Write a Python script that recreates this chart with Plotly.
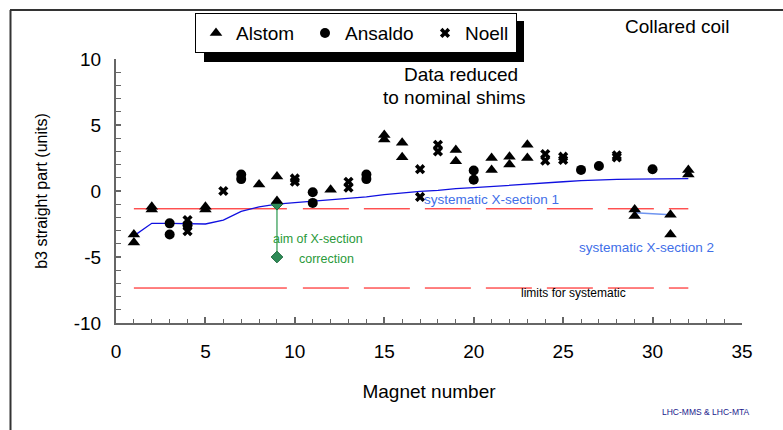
import plotly.graph_objects as go

# ---------------- data ----------------
alstom_x = [1, 1, 2, 2, 5, 5, 8, 9, 9, 12, 15, 15, 16, 16, 19, 19, 21, 21, 22, 22, 23, 23, 29, 29, 31, 31, 32, 32]
alstom_y = [-3.3, -3.9, -1.2, -1.4, -1.2, -1.4, 0.5, 1.1, -0.75, 0.1, 4.25, 3.9, 3.65, 2.55, 3.1, 2.25,
            2.5, 1.6, 2.6, 2.0, 3.5, 2.5, -1.4, -1.9, -1.8, -3.3, 1.6, 1.25]

ansaldo_x = [3, 3, 4, 7, 7, 11, 11, 14, 14, 20, 20, 26, 27, 30]
ansaldo_y = [-2.45, -3.3, -2.6, 1.25, 0.9, -0.1, -0.9, 1.25, 0.9, 1.55, 0.85, 1.6, 1.9, 1.65]

noell_x = [4, 4, 6, 10, 10, 13, 13, 17, 17, 18, 18, 24, 24, 25, 25, 28, 28]
noell_y = [-2.2, -3.05, 0.0, 0.95, 0.7, 0.7, 0.25, 1.65, -0.45, 3.5, 3.0, 2.8, 2.3, 2.6, 2.35, 2.7, 2.55]

magnets = list(range(1, 33))
syst1 = [-3.4, -2.45, -2.45, -2.5, -2.5, -2.2, -1.55, -1.2, -1.0, -0.88, -0.78, -0.68, -0.58, -0.45,
         -0.28, -0.15, -0.03, 0.05, 0.18, 0.25, 0.35, 0.42, 0.52, 0.62, 0.7, 0.78, 0.85, 0.88, 0.9,
         0.92, 0.93, 0.94]

syst2_x = [29, 30, 31]
syst2_y = [-1.65, -1.72, -1.8]

aim_x = [9, 9]
aim_y = [-1.0, -5.0]

limit_x = [1, 32]
limit_upper = -1.35
limit_lower = -7.35

x_ticks = [0, 5, 10, 15, 20, 25, 30, 35]
y_ticks = [-10, -5, 0, 5, 10]
y_ticktext = ["-10", "-5", "0", "5", "10"]

FONT = "Liberation Sans, Arial, sans-serif"
RED_DASH = "153px,16px" + ",46px,15px" * 10

fig = go.Figure()

for yv in (limit_upper, limit_lower):
    fig.add_trace(go.Scatter(x=limit_x, y=[yv, yv], mode="lines",
                             line=dict(color="#ff0000", width=1, dash=RED_DASH),
                             showlegend=False, hoverinfo="skip"))

fig.add_trace(go.Scatter(x=magnets, y=syst1, mode="lines",
                         line=dict(color="#1010e0", width=1.3), showlegend=False))
fig.add_trace(go.Scatter(x=syst2_x, y=syst2_y, mode="lines",
                         line=dict(color="#6f95f0", width=1.5), showlegend=False))
fig.add_trace(go.Scatter(x=aim_x, y=aim_y, mode="lines+markers",
                         line=dict(color="#3aa05a", width=1.3),
                         marker=dict(symbol="diamond", size=9, color="#2e8b57",
                                     line=dict(color="#1f6b3f", width=1)),
                         showlegend=False))

fig.add_trace(go.Scatter(x=alstom_x, y=alstom_y, mode="markers", name="Alstom", legendwidth=64,
                         marker=dict(symbol="triangle-up", size=11, color="black")))
fig.add_trace(go.Scatter(x=ansaldo_x, y=ansaldo_y, mode="markers", name="Ansaldo", legendwidth=75,
                         marker=dict(symbol="circle", size=10, color="black")))
fig.add_trace(go.Scatter(x=noell_x, y=noell_y, mode="markers", name="Noell", legendwidth=46,
                         marker=dict(symbol="x", size=9, color="black")))

# paper geometry helpers (plot area 116..742 px, 59..323.5 px)
L, R, T, B = 116, 742, 59, 323.5
def px(xp):
    return (xp - L) / (R - L)
def py(yp):
    return (B - yp) / (B - T)

shapes = [
    dict(type="line", xref="paper", yref="paper", x0=px(10), x1=px(790), y0=py(10), y1=py(10),
         line=dict(color="#333333", width=2)),
    dict(type="line", xref="paper", yref="paper", x0=px(10.5), x1=px(10.5), y0=py(10), y1=py(440),
         line=dict(color="#333333", width=2)),
    dict(type="rect", xref="paper", yref="paper", x0=px(204), x1=px(524), y0=py(21), y1=py(62),
         fillcolor="black", line=dict(width=0), layer="above"),
]

def ann(text, x, y, size, color="black", paper=False):
    d = dict(text=text, x=x, y=y, showarrow=False, xanchor="center", yanchor="middle",
             font=dict(size=size, color=color, family=FONT))
    if paper:
        d.update(xref="paper", yref="paper")
    return d

annotations = [
    ann("Collared coil", px(677), py(26), 19, paper=True),
    ann("Data reduced", px(461), py(75), 19, paper=True),
    ann("to nominal shims", px(454), py(98), 19, paper=True),
    ann("systematic X-section 1", 21.0, -0.62, 13.5, "#3f6fe8"),
    ann("systematic X-section 2", 29.64, -4.26, 13.5, "#3f6fe8"),
    ann("aim of X-section", 11.28, -3.67, 12.5, "#2a9a3a"),
    ann("correction", 11.77, -5.12, 12.5, "#2a9a3a"),
    ann("limits for systematic", 25.6, -7.72, 12),
    ann("LHC-MMS & LHC-MTA", px(706), py(413), 8.5, "#1a1a8c", paper=True),
]

fig.update_layout(
    width=783, height=430,
    margin=dict(l=L, r=783 - R, t=T, b=430 - B),
    paper_bgcolor="white", plot_bgcolor="white",
    font=dict(family=FONT, color="black"),
    showlegend=True,
    legend=dict(orientation="h", x=px(195), y=py(13), xanchor="left", yanchor="top",
                bgcolor="white", bordercolor="black", borderwidth=1,
                font=dict(size=19, color="black", family=FONT)),
    shapes=shapes,
    annotations=annotations,
    xaxis=dict(range=[0, 35], tickvals=x_ticks, showgrid=False, zeroline=False,
               showline=True, linecolor="#666666", linewidth=2,
               ticks="inside", ticklen=6, tickwidth=1.5, tickcolor="#666666",
               minor=dict(dtick=1, ticks="inside", ticklen=4, tickcolor="#666666", tickwidth=1),
               tickfont=dict(size=19, color="black"), ticklabelstandoff=10,
               title=dict(text="Magnet number", font=dict(size=19, color="black"), standoff=24)),
    yaxis=dict(range=[-10, 10], tickvals=y_ticks, ticktext=y_ticktext, showgrid=False, zeroline=False,
               showline=True, linecolor="#666666", linewidth=2,
               ticks="inside", ticklen=5, tickwidth=1.5, tickcolor="#666666",
               minor=dict(dtick=1, ticks="inside", ticklen=5, tickcolor="#666666", tickwidth=1),
               tickfont=dict(size=19, color="black"), ticklabelstandoff=9,
               title=dict(text="b3 straight part (units)", font=dict(size=16, color="black"), standoff=22)),
)

fig.write_html("out.html")
